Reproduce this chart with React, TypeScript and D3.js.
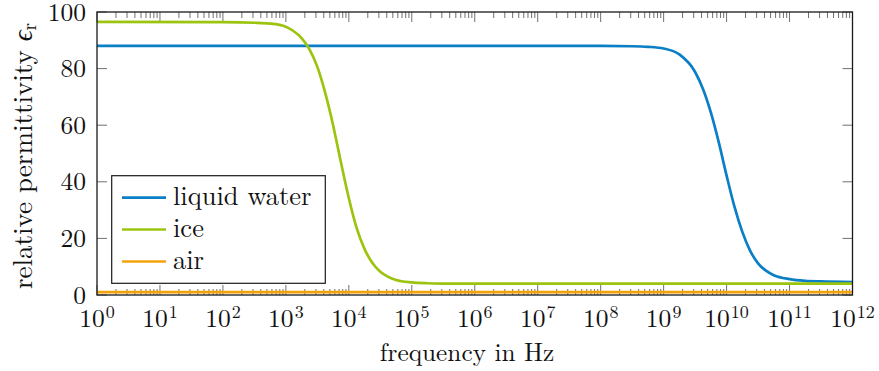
import React from "react";
import * as d3 from "d3";

const W = 879;
const H = 371;

// log10(frequency in Hz) positions
const waterLogF = [0, 8, 8.5, 8.75, 9.0, 9.25, 9.5, 9.625, 9.75, 9.875, 10.0, 10.125, 10.25, 10.375, 10.5, 10.625, 10.75, 11.0, 11.25, 11.5, 12];
const waterEps = [88.0, 88.0, 87.9, 87.7, 87.1, 85.0, 78.8, 72.8, 64.5, 54.0, 42.2, 31.2, 22.3, 15.6, 11.2, 8.6, 7.0, 5.6, 5.0, 4.8, 4.6];

const iceLogF = [0, 2, 2.5, 2.75, 3.0, 3.125, 3.25, 3.375, 3.5, 3.625, 3.75, 3.875, 4.0, 4.125, 4.25, 4.375, 4.5, 4.625, 4.75, 5.0, 5.25, 5.5, 6, 12];
const iceEps = [96.5, 96.4, 96.2, 95.9, 94.8, 93.2, 90.8, 86.8, 80.6, 71.4, 60.0, 46.8, 34.2, 23.6, 16.2, 11.3, 8.2, 6.4, 5.3, 4.45, 4.15, 4.05, 4.0, 4.0];

const airLogF = [0, 12];
const airEps = [1.0, 1.0];

const seriesNames = ["liquid water", "ice", "air"];
const seriesColors = ["#0a7fc6", "#9cc40f", "#f4a20a"];

const xTickExps = d3.range(0, 13);
const yTicks = [0, 20, 40, 60, 80, 100];

const FONT = '"Latin Modern Roman"';

export default function App() {
  const left = 97;
  const right = 852.5;
  const top = 12;
  const bottom = 295;

  const x = d3.scaleLog().domain([1, 1e12]).range([left, right]);
  const y = d3.scaleLinear().domain([0, 100]).range([bottom, top]);

  const mk = (lf: number[], ep: number[]) =>
    lf.map((l, i) => ({ f: Math.pow(10, l), e: ep[i] }));
  const series = [mk(waterLogF, waterEps), mk(iceLogF, iceEps), mk(airLogF, airEps)];

  const line = d3
    .line<{ f: number; e: number }>()
    .x((d) => x(d.f))
    .y((d) => y(d.e))
    .curve(d3.curveMonotoneX);

  const minor: number[] = [];
  for (let e = 0; e < 12; e++) {
    for (let m = 2; m <= 9; m++) minor.push(m * Math.pow(10, e));
  }

  const majLen = 10;
  const minLen = 6;
  const tickColor = "#707070";

  const legX = 111.7;
  const legY = 175.7;
  const legW = 213.6;
  const legH = 107.6;
  const rowY = [197.7, 229.5, 261.5];
  const ts = { fontFamily: FONT };
  const FS = 25.5;

  return (
    <svg width={W} height={H} style={{ position: "absolute", left: 0, top: 0, background: "#fff" }}>
      <defs>
        <clipPath id="plotclip">
          <rect x={left} y={top - 2} width={right - left} height={bottom - top + 4} />
        </clipPath>
      </defs>

      {minor.map((v, i) => (
        <g key={"mn" + i} stroke={tickColor} strokeWidth={1}>
          <line x1={x(v)} x2={x(v)} y1={bottom} y2={bottom - minLen} />
          <line x1={x(v)} x2={x(v)} y1={top} y2={top + minLen} />
        </g>
      ))}
      {xTickExps.map((e) => (
        <g key={"mj" + e} stroke={tickColor} strokeWidth={1}>
          <line x1={x(Math.pow(10, e))} x2={x(Math.pow(10, e))} y1={bottom} y2={bottom - majLen} />
          <line x1={x(Math.pow(10, e))} x2={x(Math.pow(10, e))} y1={top} y2={top + majLen} />
        </g>
      ))}
      {yTicks.map((v) => (
        <g key={"yt" + v} stroke={tickColor} strokeWidth={1}>
          <line x1={left} x2={left + majLen} y1={y(v)} y2={y(v)} />
          <line x1={right} x2={right - majLen} y1={y(v)} y2={y(v)} />
        </g>
      ))}

      <g clipPath="url(#plotclip)">
        {series.map((s, i) => (
          <path
            key={"s" + i}
            d={line(s) || ""}
            fill="none"
            stroke={seriesColors[i]}
            strokeWidth={2.7}
            strokeLinejoin="round"
          />
        ))}
      </g>

      <rect
        x={left}
        y={top}
        width={right - left}
        height={bottom - top}
        fill="none"
        stroke="#1a1a1a"
        strokeWidth={1.3}
      />

      {yTicks.map((v) => (
        <text key={"yl" + v} x={86} y={y(v) + 8.5} textAnchor="end" fontSize={FS} fill="#111" style={ts}>
          {v}
        </text>
      ))}

      {xTickExps.map((e) => (
        <text key={"xl" + e} x={x(Math.pow(10, e))} y={327} textAnchor="middle" fontSize={FS} fill="#111" style={ts}>
          10
          <tspan fontSize={18} dy={-9.5} dx={1}>
            {e}
          </tspan>
        </text>
      ))}

      <text x={467} y={361} textAnchor="middle" fontSize={25.3} fill="#111" style={ts}>
        frequency in Hz
      </text>
      <text
        transform={`translate(31.5, 156) rotate(-90)`}
        textAnchor="middle"
        fontSize={27}
        fill="#111"
        style={ts}
      >
        relative permittivity{" "}
        <tspan fontStyle="italic">ϵ</tspan>
        <tspan fontSize={19} dy={4}>r</tspan>
      </text>

      <rect x={legX} y={legY} width={legW} height={legH} fill="#fff" stroke="#1a1a1a" strokeWidth={1.2} />
      {seriesNames.map((n, i) => (
        <g key={"lg" + i}>
          <line x1={122} x2={166} y1={rowY[i]} y2={rowY[i]} stroke={seriesColors[i]} strokeWidth={2.7} />
          <text x={173} y={rowY[i] + 7.5} fontSize={26.5} fill="#111" style={ts}>
            {n}
          </text>
        </g>
      ))}
    </svg>
  );
}
